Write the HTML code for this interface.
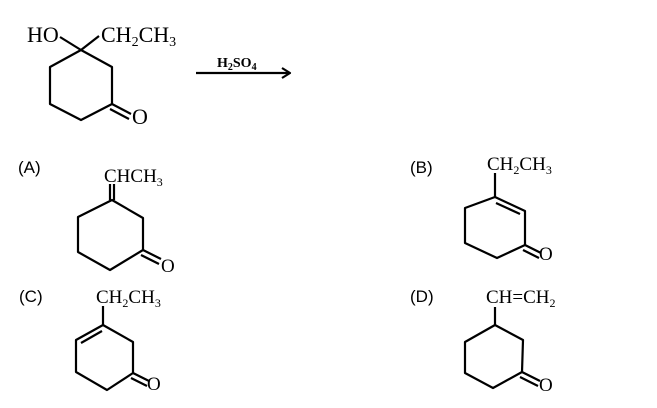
<!DOCTYPE html>
<html><head><meta charset="utf-8"><style>
html,body{margin:0;padding:0;background:#fff;}
svg{display:block;}
.f{font-family:"Liberation Serif",serif;fill:#000;}
.l{font-family:"Liberation Sans",sans-serif;font-size:17px;fill:#000;}
</style></head><body>
<svg width="657" height="408" viewBox="0 0 657 408" xmlns="http://www.w3.org/2000/svg">
<g stroke="#000" stroke-width="2.2" fill="none" stroke-linejoin="round">
<polyline points="112,104 112,67 81,50 50,67 50,104 81,120 112,104"/>
<line x1="112" y1="104" x2="131" y2="114"/><line x1="110" y1="109" x2="129" y2="119"/>
<line x1="81" y1="50" x2="60" y2="37"/><line x1="81" y1="50" x2="99" y2="36"/>
<line x1="196" y1="73" x2="289" y2="73"/><polyline points="282,68 290,73 282,78"/>
<polyline points="143,250 143,218 112,200 78,217 78,252 110,270 143,250"/>
<line x1="143" y1="250" x2="161" y2="259"/><line x1="141" y1="255" x2="159" y2="264"/>
<line x1="110" y1="200" x2="110" y2="184"/><line x1="114" y1="200" x2="114" y2="184"/>
<polyline points="525,245 525,211 495,197 465,208 465,243 497,258 525,245"/>
<line x1="520" y1="214" x2="496" y2="203"/>
<line x1="525" y1="245" x2="541" y2="253"/><line x1="523" y1="250" x2="539" y2="258"/>
<line x1="495" y1="197" x2="495" y2="173"/>
<polyline points="133,373 133,342 103,325 76,340 76,372 107,390 133,373"/>
<line x1="81" y1="343" x2="102" y2="331"/>
<line x1="133" y1="373" x2="149" y2="381"/><line x1="131" y1="378" x2="147" y2="386"/>
<line x1="103" y1="325" x2="103" y2="306"/>
<polyline points="522,372 523,340 495,325 465,342 465,373 493,388 522,372"/>
<line x1="522" y1="372" x2="540" y2="381"/><line x1="520" y1="377" x2="538" y2="386"/>
<line x1="495" y1="325" x2="495" y2="307"/>
</g>
<g class="f">
<text x="27" y="42" font-size="22">HO</text>
<text x="101" y="42" font-size="22">CH<tspan font-size="14" dy="4">2</tspan><tspan dy="-4">CH</tspan><tspan font-size="14" dy="4">3</tspan></text>
<text x="132" y="124" font-size="22">O</text>
<text x="217" y="67" font-size="14" font-weight="bold">H<tspan font-size="10" dy="3">2</tspan><tspan dy="-3">SO</tspan><tspan font-size="10" dy="3">4</tspan></text>
<text x="104" y="182" font-size="19">CHCH<tspan font-size="12" dy="4">3</tspan></text>
<text x="161" y="272" font-size="19">O</text>
<text x="487" y="170" font-size="19">CH<tspan font-size="12" dy="4">2</tspan><tspan dy="-4">CH</tspan><tspan font-size="12" dy="4">3</tspan></text>
<text x="539" y="260" font-size="19">O</text>
<text x="96" y="303" font-size="19">CH<tspan font-size="12" dy="4">2</tspan><tspan dy="-4">CH</tspan><tspan font-size="12" dy="4">3</tspan></text>
<text x="147" y="390" font-size="19">O</text>
<text x="486" y="303" font-size="19">CH=CH<tspan font-size="12" dy="4">2</tspan></text>
<text x="539" y="391" font-size="19">O</text>
</g>
<text class="l" x="18" y="173">(A)</text>
<text class="l" x="410" y="173">(B)</text>
<text class="l" x="19" y="302">(C)</text>
<text class="l" x="410" y="302">(D)</text>
</svg>
</body></html>
